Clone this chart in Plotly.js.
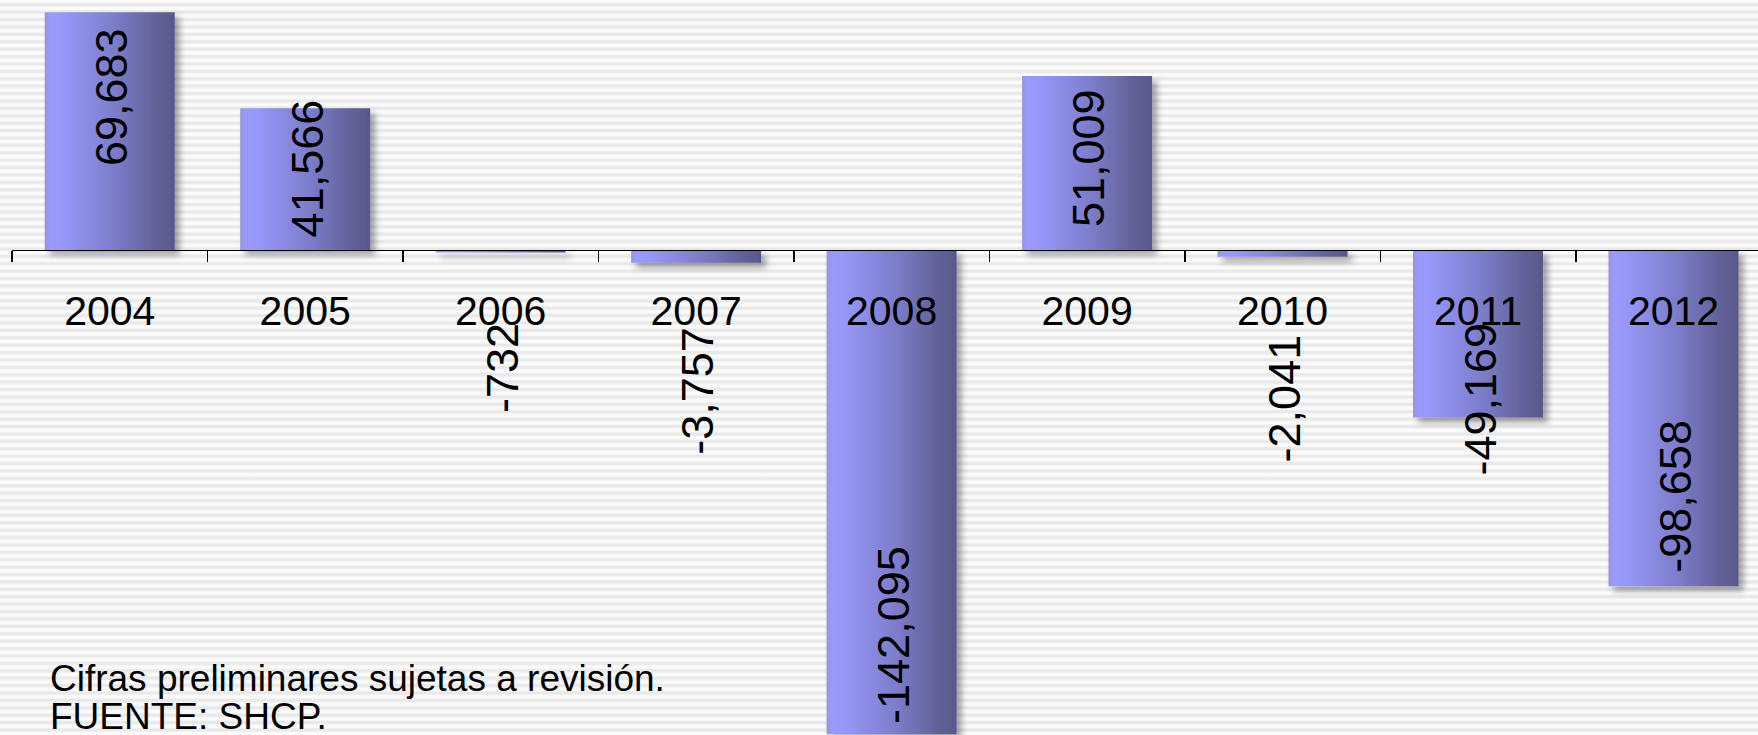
<!DOCTYPE html>
<html>
<head>
<meta charset="utf-8">
<script src="https://cdn.plot.ly/plotly-3.0.1.min.js"></script>
<style>
  html, body { margin: 0; padding: 0; }
  body {
    width: 1758px; height: 735px; overflow: hidden;
    background: repeating-linear-gradient(to bottom,
      #fbfbfb 0px, #fbfbfb 2.2px, #e9e9e9 3.8px, #e9e9e9 5.6px, #fbfbfb 7.4px);
  }
  #chart { width: 1758px; height: 735px; }
</style>
</head>
<body>
<div id="chart"></div>
<script>
// ---- data ----
const years = ['2004', '2005', '2006', '2007', '2008', '2009', '2010', '2011', '2012'];
const balance = [69683, 41566, -732, -3757, -142095, 51009, -2041, -49169, -98658];
const noteLines = ['Cifras preliminares sujetas a revisión.', 'FUENTE: SHCP.'];

// ---- style / layout parameters ----
const labelShift = [-85, -60, -116, -128, 99, -82, -142, 18, 90]; // px, label centre vs bar end
const yRange = [-142300, 73300];
const xRange = [-0.5, -0.5 + 1746 / 195.47];
const fontFam = 'Arial, "Liberation Sans", sans-serif';

function fmt(v) { return v.toLocaleString('en-US'); }

const trace = {
  type: 'bar',
  x: years,
  y: balance,
  width: 0.665,
  marker: { color: '#7b7bc8', line: { width: 0 } },
  hoverinfo: 'x+y'
};

// category axis: annotations positioned by category index
const annotations = years.map((yr, i) => ({
  x: i, y: balance[i], xref: 'x', yref: 'y',
  text: fmt(balance[i]),
  textangle: -90,
  showarrow: false,
  xanchor: 'center', yanchor: 'middle',
  xshift: 2,
  yshift: labelShift[i],
  font: { family: fontFam, size: 45, color: '#000' }
}));

annotations.push({
  xref: 'paper', yref: 'paper', x: 36 / 1746, y: 1 - 678 / 735,
  xanchor: 'left', yanchor: 'middle', showarrow: false, align: 'left',
  text: noteLines[0],
  font: { family: fontFam, size: 37, color: '#000' }
});
annotations.push({
  xref: 'paper', yref: 'paper', x: 36 / 1746, y: 1 - 716 / 735,
  xanchor: 'left', yanchor: 'middle', showarrow: false, align: 'left',
  text: noteLines[1],
  font: { family: fontFam, size: 37, color: '#000' }
});

const layout = {
  width: 1758, height: 735,
  margin: { l: 12, r: 0, t: 0, b: 0, pad: 0 },
  paper_bgcolor: 'rgba(0,0,0,0)',
  plot_bgcolor: 'rgba(0,0,0,0)',
  showlegend: false,
  xaxis: {
    type: 'category',
    range: xRange,
    anchor: 'free',
    position: (0 - yRange[0]) / (yRange[1] - yRange[0]),
    showline: true, linecolor: '#000', linewidth: 1.5,
    ticks: 'outside', tickson: 'boundaries', ticklen: 11, tickwidth: 1.5, tickcolor: '#000',
    ticklabelstandoff: 24,
    showgrid: false, zeroline: false,
    tickfont: { family: fontFam, size: 41, color: '#000' },
    fixedrange: true
  },
  yaxis: {
    range: yRange, visible: false, showgrid: false, zeroline: false, fixedrange: true
  },
  annotations: annotations
};

Plotly.newPlot('chart', [trace], layout, { displayModeBar: false, staticPlot: true }).then(gd => {
  const svg = gd.querySelector('svg.main-svg');
  const NS = 'http://www.w3.org/2000/svg';
  let defs = svg.querySelector('defs');
  if (!defs) { defs = document.createElementNS(NS, 'defs'); svg.insertBefore(defs, svg.firstChild); }
  const grad = document.createElementNS(NS, 'linearGradient');
  grad.setAttribute('id', 'barGrad');
  grad.setAttribute('x1', '0'); grad.setAttribute('y1', '0');
  grad.setAttribute('x2', '1'); grad.setAttribute('y2', '0');
  [['0', '#9494e6'], ['0.04', '#9a9afc'], ['0.12', '#9898fb'], ['0.5', '#7f7fcf'], ['0.85', '#626299'], ['1', '#58588a']]
    .forEach(([o, c]) => {
      const s = document.createElementNS(NS, 'stop');
      s.setAttribute('offset', o); s.setAttribute('stop-color', c);
      grad.appendChild(s);
    });
  defs.appendChild(grad);
  const filt = document.createElementNS(NS, 'filter');
  filt.setAttribute('id', 'barShadow');
  filt.setAttribute('filterUnits', 'userSpaceOnUse');
  filt.setAttribute('x', '-200'); filt.setAttribute('y', '-200');
  filt.setAttribute('width', '2400'); filt.setAttribute('height', '1400');
  const ds = document.createElementNS(NS, 'feDropShadow');
  ds.setAttribute('dx', '5'); ds.setAttribute('dy', '5');
  ds.setAttribute('stdDeviation', '3');
  ds.setAttribute('flood-color', '#000'); ds.setAttribute('flood-opacity', '0.35');
  filt.appendChild(ds);
  defs.appendChild(filt);
  gd.querySelectorAll('.barlayer .point path').forEach(p => {
    p.style.fill = 'url(#barGrad)';
    p.setAttribute('filter', 'url(#barShadow)');
  });
});
</script>
</body>
</html>
